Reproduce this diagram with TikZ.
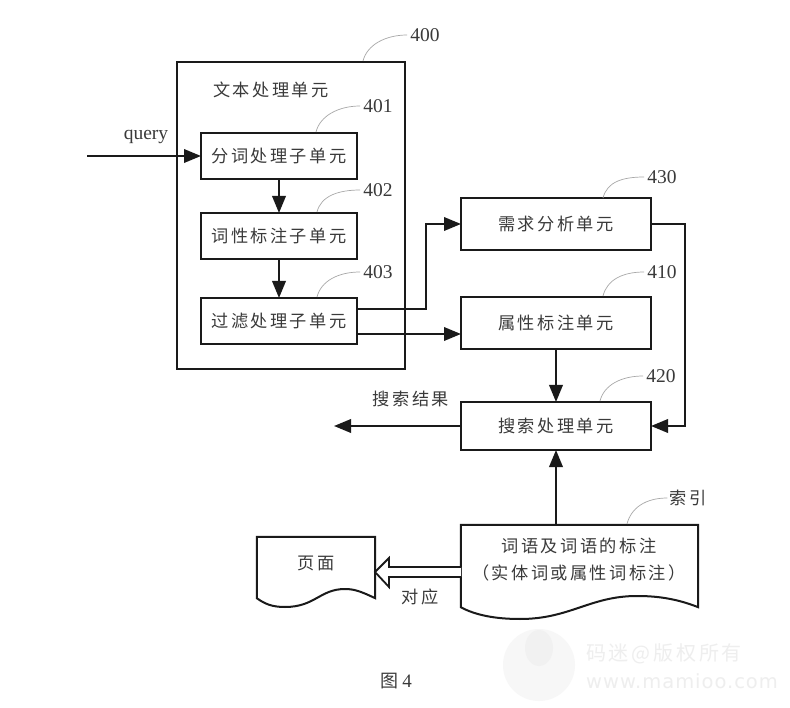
\documentclass[tikz,border=0pt]{standalone}
\usepackage{fontspec}
\setmainfont{Liberation Serif}
\newfontfamily\cjk[LetterSpace=14]{Noto Sans CJK SC}
\newfontfamily\wmfont[LetterSpace=5]{DejaVu Sans}
\usetikzlibrary{arrows.meta}
\definecolor{ink}{HTML}{1A1A1A}
\definecolor{soft}{HTML}{3A3A3A}
\definecolor{leadc}{HTML}{A8A8A8}
\definecolor{wm}{HTML}{EEEEEE}
\tikzset{
  x=1pt,y=-1pt,
  boxs/.style={draw=ink,line width=2pt,fill=white,inner sep=0pt,outer sep=0pt,minimum width=#1,font=\fontsize{17.2}{17.2}\cjk,text=soft},
  subbox/.style={boxs=156pt,minimum height=46pt},
  unitbox/.style={boxs=190pt,minimum height=52pt},
  ctext/.style={inner sep=0pt,font=\fontsize{17.2}{17.2}\cjk,text=soft},
  lab/.style={inner sep=3pt,font=\fontsize{19.5}{19.5}\selectfont,text=soft},
  leader/.style={draw=leadc,line width=0.7pt},
  conn/.style={draw=ink,line width=2pt,-{Triangle[length=17pt,width=13.5pt]}},
  docline/.style={draw=ink,line width=2pt,line join=miter}
}
\begin{document}
\begin{tikzpicture}
\useasboundingbox (0,0) rectangle (790,708);
\fill[white] (0,0) rectangle (790,708);

% watermark
\fill[wm!45!white] (539,665) circle (36);
\fill[wm!80!white] (539,648) ellipse (14 and 18);
\node[inner sep=0pt,text=wm,font=\fontsize{20}{20}\cjk,anchor=west] (wm1) at (586,654) {码迷@版权所有};
\node[inner sep=0pt,text=wm,font=\fontsize{19.5}{19.5}\wmfont,anchor=west] (wm2) at (586,681) {www.mamioo.com};

% boxes
\node[boxs=228pt,minimum height=307pt,fill=none] (outer) at (291,215.5) {};
\node[ctext] (title) at (271,90) {文本处理单元};
\node[subbox] (b401) at (279,156) {分词处理子单元};
\node[subbox] (b402) at (279,236) {词性标注子单元};
\node[subbox] (b403) at (279,321) {过滤处理子单元};
\node[unitbox] (b430) at (556,224) {需求分析单元};
\node[unitbox] (b410) at (556,323) {属性标注单元};
\node[boxs=190pt,minimum height=48pt] (b420) at (556,426) {搜索处理单元};

% document shapes
\node[inner sep=0pt,minimum width=237pt,minimum height=82pt] (idx) at (579.5,566) {};
\draw[docline,fill=white] (idx.south west) -- (idx.north west) -- (idx.north east) -- (idx.south east)
  .. controls (675,598) and (655,596) .. (637,596)
  .. controls (590,596) and (570,619) .. (520,619)
  .. controls (495,619) and (475,615) .. (idx.south west) -- cycle;
\node[ctext] (idx1) at (579,546) {词语及词语的标注};
\node[ctext] (idx2) at (579,573) {（实体词或属性词标注）};

\node[inner sep=0pt,minimum width=118pt,minimum height=61pt] (page) at (316,567.5) {};
\draw[docline,fill=white] (page.south west) -- (page.north west) -- (page.north east) -- (page.south east)
  .. controls (362,592) and (355,589) .. (345,589)
  .. controls (320,589) and (315,607) .. (285,607)
  .. controls (272,607) and (265,604) .. (page.south west) -- cycle;
\node[ctext] (pagetext) at (316,563) {页面};

% hollow arrow
\coordinate (tip) at (375,572);
\coordinate (ha) at (461,567);
\coordinate (hb) at (461,577);
\draw[docline,fill=white,line width=1.8pt] (ha) -- (389,567) -- (389,558) -- (tip) -- (389,587) -- (389,577) -- (hb);

% connectors
\coordinate (qs) at (87,156);
\coordinate (qe) at (334,426);
\draw[conn] (qs) -- (b401.west);
\draw[conn] (b401.south) -- (b402.north);
\draw[conn] (b402.south) -- (b403.north);
\draw[conn] ([yshift=12pt]b403.east) -- ++(69,0) |- (b430.west);
\draw[conn] ([yshift=-13pt]b403.east) -- ([yshift=-11pt]b410.west);
\draw[conn] (b430.east) -- ++(34,0) |- (b420.east);
\draw[conn] (b410.south) -- (b420.north);
\draw[conn] (b420.west) -- (qe);
\draw[conn] (idx.north -| b420.south) -- (b420.south);

% text labels
\node[lab] (lq) at (146,137) {query};
\node[ctext] (lres) at (411,399) {搜索结果};
\node[ctext] (lcor) at (420,597) {对应};
\node[lab] (l400) at (425,35) {400};
\node[lab] (l401) at (378,106) {401};
\node[lab] (l402) at (378,190) {402};
\node[lab] (l403) at (378,272) {403};
\node[lab] (l430) at (662,177) {430};
\node[lab] (l410) at (662,272) {410};
\node[lab] (l420) at (661,376) {420};
\node[ctext,inner sep=2pt] (lidx) at (688,498) {索引};
\node[inner sep=0pt,text=soft,font=\fontsize{19}{19}\selectfont] (fig) at (396,681) {{\fontsize{18}{18}\cjk 图}\hspace{4pt}4};

% leaders
\coordinate (s400) at (363,61);
\coordinate (s401) at (316,132);
\coordinate (s402) at (317,212);
\coordinate (s403) at (317,297);
\coordinate (s430) at (603,198);
\coordinate (s410) at (603,296);
\coordinate (s420) at (600,401);
\coordinate (sidx) at (627,524);
\foreach \a/\b in {s400/l400,s401/l401,s402/l402,s403/l403,s430/l430,s410/l410,s420/l420,sidx/lidx}
  \draw[leader] (\a) .. controls +(4,-16) and +(-22,0) .. (\b.west);
\end{tikzpicture}
\end{document}
